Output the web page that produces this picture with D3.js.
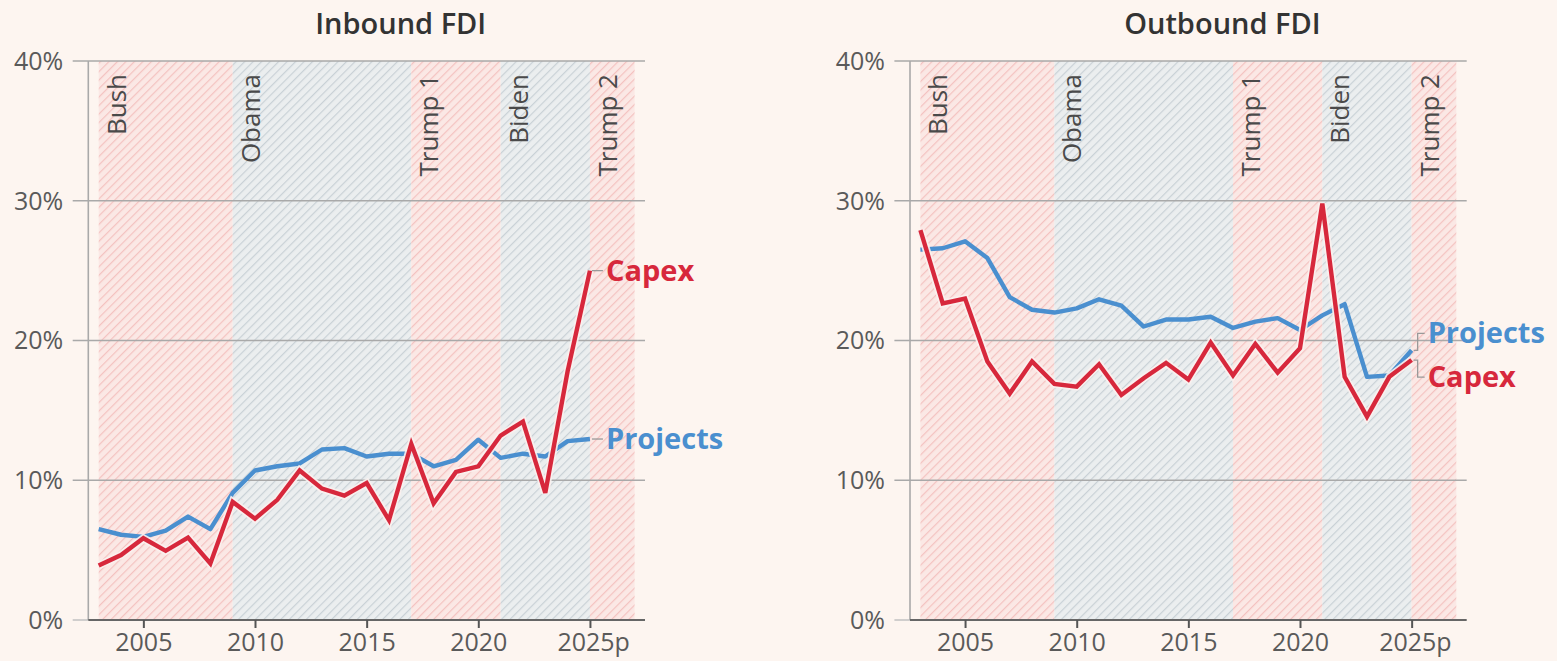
<!DOCTYPE html>
<html>
<head>
<meta charset="UTF-8">
<title>FDI capex and projects</title>
<script src="https://d3js.org/d3.v7.min.js"></script>
<style>
  body { margin: 0; background: #fdf5f0; }
  text { font-family: "Open Sans", "Noto Sans", sans-serif; }
</style>
</head>
<body>
<script>
// ---- data ----
var years = d3.range(2003, 2026);
var xTickYears = [2005, 2010, 2015, 2020, 2025];
var xTickLabels = ["2005", "2010", "2015", "2020", "2025p"];
var yTicks = [0, 10, 20, 30, 40];

var periodNames = ["Bush", "Obama", "Trump 1", "Biden", "Trump 2"];
var periodStarts = [2003, 2009, 2017, 2021, 2025];
var periodEnds = [2009, 2017, 2021, 2025, 2027];
var periodParty = ["R", "D", "R", "D", "R"];

var inboundProjects = [6.5, 6.1, 5.95, 6.4, 7.4, 6.5, 9.1, 10.7, 11.0, 11.2, 12.2, 12.3, 11.7, 11.9, 11.9, 11.0, 11.45, 12.9, 11.6, 11.9, 11.7, 12.8, 12.95];
var inboundCapex = [3.9, 4.65, 5.85, 4.95, 5.9, 4.05, 8.45, 7.25, 8.6, 10.7, 9.4, 8.9, 9.8, 7.15, 12.6, 8.35, 10.6, 11.0, 13.2, 14.2, 9.1, 17.8, 25.0];
var outboundProjects = [26.5, 26.6, 27.1, 25.9, 23.1, 22.2, 22.0, 22.3, 22.95, 22.5, 21.0, 21.5, 21.5, 21.7, 20.9, 21.35, 21.6, 20.75, 21.8, 22.6, 17.4, 17.5, 19.3];
var outboundCapex = [27.9, 22.65, 23.0, 18.5, 16.2, 18.5, 16.9, 16.7, 18.3, 16.1, 17.3, 18.4, 17.2, 19.85, 17.5, 19.75, 17.7, 19.45, 29.8, 17.4, 14.55, 17.4, 18.6];

var RED = "#d7283c", BLUE = "#4a8fcf", BG = "#fdf5f0";

var svg = d3.select("body").append("svg")
  .attr("width", 1557).attr("height", 661);
svg.append("rect").attr("width", 1557).attr("height", 661).attr("fill", BG);

// hatch patterns
var defs = svg.append("defs");
function hatch(id, bg, stroke) {
  var p = defs.append("pattern").attr("id", id)
    .attr("patternUnits", "userSpaceOnUse")
    .attr("width", 6).attr("height", 6)
    .attr("patternTransform", "rotate(45)");
  p.append("rect").attr("width", 6).attr("height", 6).attr("fill", bg);
  p.append("line").attr("x1", 0).attr("y1", 0).attr("x2", 0).attr("y2", 6)
    .attr("stroke", stroke).attr("stroke-width", 2.4);
}
hatch("hatchR", "#fbe8e5", "#f4c2c0");
hatch("hatchD", "#ebeeef", "#c9d1d6");

var y = d3.scaleLinear().domain([0, 40]).range([620, 61]);

function panel(x0, title, projects, capex, labelNudge) {
  var x = d3.scaleLinear().domain([2003, 2027]).range([x0, x0 + 535.9]);
  var g = svg.append("g");
  var axisLeft = x(2003) - 10.4, axisRight = x(2027) + 10.4;

  // period bands
  g.selectAll("rect.band").data(periodNames).enter().append("rect")
    .attr("x", function (d, i) { return x(periodStarts[i]); })
    .attr("width", function (d, i) { return x(periodEnds[i]) - x(periodStarts[i]); })
    .attr("y", y(40)).attr("height", y(0) - y(40))
    .attr("fill", function (d, i) { return periodParty[i] == "R" ? "url(#hatchR)" : "url(#hatchD)"; });

  // gridlines
  g.selectAll("line.grid").data(yTicks.slice(1)).enter().append("line")
    .attr("x1", axisLeft - 15.6).attr("x2", axisRight)
    .attr("y1", function (d) { return y(d); }).attr("y2", function (d) { return y(d); })
    .attr("stroke", "#a9a9a9").attr("stroke-width", 1.6);
  g.append("line").attr("x1", axisLeft - 15.6).attr("x2", axisLeft)
    .attr("y1", y(0)).attr("y2", y(0))
    .attr("stroke", "#c4c4c4").attr("stroke-width", 1.6);

  // y axis line
  g.append("line").attr("x1", axisLeft).attr("x2", axisLeft)
    .attr("y1", y(40)).attr("y2", y(0))
    .attr("stroke", "#a9a9a9").attr("stroke-width", 1.6);

  // y tick labels
  g.selectAll("text.ytick").data(yTicks).enter().append("text")
    .attr("x", axisLeft - 25).attr("y", function (d) { return y(d); })
    .attr("dy", "0.35em").attr("text-anchor", "end")
    .attr("font-size", 25).attr("fill", "#5a5a5a")
    .text(function (d) { return d + "%"; });

  // x axis
  var xAxis = d3.axisBottom(x).tickValues(xTickYears).tickSize(8).tickPadding(5)
    .tickFormat(function (d, i) { return xTickLabels[i]; });
  var ax = g.append("g").attr("transform", "translate(0," + y(0) + ")").call(xAxis);
  ax.select(".domain").attr("d", "M" + axisLeft + ",0H" + axisRight)
    .attr("stroke", "#666").attr("stroke-width", 2.2);
  ax.selectAll(".tick line").attr("stroke", "#555").attr("stroke-width", 2);
  ax.selectAll(".tick text").attr("font-size", 25).attr("fill", "#5a5a5a")
    .attr("font-family", "'Open Sans', sans-serif")
    .attr("text-anchor", function (d, i) { return i == 4 ? "start" : "middle"; })
    .attr("dx", function (d, i) { return i == 4 ? -33 : 0; });

  // period labels
  g.selectAll("text.period").data(periodNames).enter().append("text")
    .attr("transform", function (d, i) {
      return "translate(" + (x(periodStarts[i]) + 27) + "," + 74 + ") rotate(-90)";
    })
    .attr("text-anchor", "end")
    .attr("font-size", 26).attr("fill", "#4a4a4a")
    .text(function (d) { return d; });

  // lines
  var line = d3.line().x(function (d, i) { return x(years[i]); }).y(function (d) { return y(d); });
  g.append("path").datum(projects).attr("d", line)
    .attr("fill", "none").attr("stroke", BLUE).attr("stroke-width", 4.4)
    .attr("stroke-linejoin", "round");
  g.append("path").datum(capex).attr("d", line)
    .attr("fill", "none").attr("stroke", "#fbf1ee").attr("stroke-width", 8)
    .attr("stroke-linejoin", "miter").attr("opacity", 0.9);
  g.append("path").datum(capex).attr("d", line)
    .attr("fill", "none").attr("stroke", RED).attr("stroke-width", 4.4)
    .attr("stroke-linejoin", "miter");

  // end labels
  var xe = x(2025), last = years.length - 1;
  var ends = [
    { name: "Projects", v: projects[last], color: BLUE, nudge: labelNudge[0] },
    { name: "Capex", v: capex[last], color: RED, nudge: labelNudge[1] }
  ];
  ends.forEach(function (e) {
    var yv = y(e.v), yl = yv + e.nudge;
    g.append("path")
      .attr("d", "M" + (xe + 2) + "," + yv + "H" + (xe + 6) + "V" + yl + "H" + (xe + 13))
      .attr("fill", "none").attr("stroke", "#999").attr("stroke-width", 1.3);
    g.append("text").attr("x", xe + 16).attr("y", yl).attr("dy", "0.35em")
      .attr("font-size", 29).attr("font-weight", 700).attr("fill", e.color)
      .text(e.name);
  });

  // title
  svg.append("text").attr("x", x(2003) + 302).attr("y", 34)
    .attr("text-anchor", "middle").attr("font-size", 29).attr("font-weight", 600)
    .attr("fill", "#333").text(title);
}

panel(98.7, "Inbound FDI", inboundProjects, inboundCapex, [0, 0]);
panel(920.4, "Outbound FDI", outboundProjects, outboundCapex, [-17, 17]);
</script>
</body>
</html>
